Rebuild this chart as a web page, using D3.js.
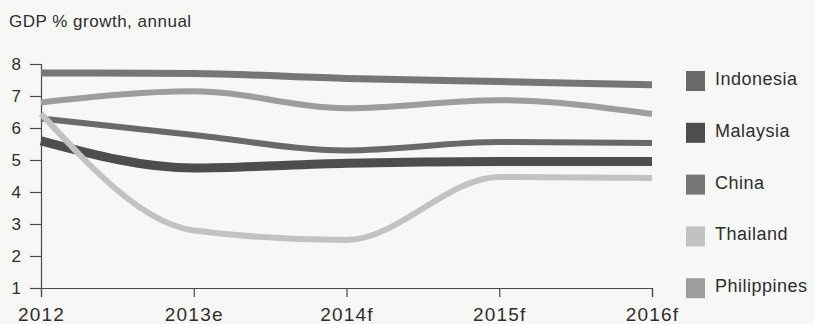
<!DOCTYPE html>
<html>
<head>
<meta charset="utf-8">
<script src="https://cdn.jsdelivr.net/npm/d3@7"></script>
<style>
  html, body { margin: 0; padding: 0; background: #f7f7f6; }
  svg { display: block; }
  text { font-family: "Liberation Sans", Arial, sans-serif; fill: #2e2e2e; }
</style>
</head>
<body>
<svg id="chart" width="814" height="324"></svg>
<script>
// Annual GDP growth (%), actual, estimate and forecast years
const years = ["2012", "2013e", "2014f", "2015f", "2016f"];
const yTicks = [1, 2, 3, 4, 5, 6, 7, 8];

const indonesia   = [6.3, 5.78, 5.3, 5.56, 5.53];
const malaysia    = [5.6, 4.75, 4.9, 4.95, 4.95];
const china       = [7.72, 7.7, 7.55, 7.45, 7.35];
const thailand    = [6.45, 2.8, 2.5, 4.47, 4.44];
const philippines = [6.8, 7.15, 6.62, 6.87, 6.44];

const countries = ["Indonesia", "Malaysia", "China", "Thailand", "Philippines"];
const seriesValues = {
  Indonesia: indonesia,
  Malaysia: malaysia,
  China: china,
  Thailand: thailand,
  Philippines: philippines
};

const colors = {
  Indonesia: "#696969",
  Malaysia: "#4d4d4d",
  China: "#767676",
  Thailand: "#c2c2c2",
  Philippines: "#9d9d9d"
};
const widths = {
  Indonesia: 6,
  Malaysia: 9,
  China: 7,
  Thailand: 6,
  Philippines: 6
};
// lighter lines sit on top where they cross the darker ones
const drawOrder = ["China", "Philippines", "Indonesia", "Malaysia", "Thailand"];

const svg = d3.select("#chart");

const x = d3.scalePoint().domain(years).range([41, 652]);
const y = d3.scaleLinear().domain([1, 8]).range([288, 64]);

svg.append("text")
  .attr("x", 9).attr("y", 26.5)
  .style("font-size", "17px")
  .style("letter-spacing", "0.5px")
  .text("GDP % growth, annual");

// y axis
const yAxis = svg.append("g")
  .attr("transform", "translate(41,0)")
  .call(d3.axisLeft(y).tickValues(yTicks).tickSize(11).tickPadding(9).tickFormat(d3.format("d")));
yAxis.selectAll("text").style("font-size", "17px").attr("fill", "#2e2e2e");

// x axis
const xAxis = svg.append("g")
  .attr("transform", "translate(0,288)")
  .call(d3.axisBottom(x).tickSize(9).tickSizeOuter(9).tickPadding(10.5));
xAxis.selectAll("text").style("font-size", "19px").style("letter-spacing", "1.2px").attr("fill", "#2e2e2e");

svg.selectAll(".domain, .tick line").attr("stroke", "#4a4a4a").attr("stroke-width", 1.2);

// lines
const line = d3.line()
  .x((d, i) => x(years[i]))
  .y(d => y(d))
  .curve(d3.curveMonotoneX);

svg.append("g").selectAll("path")
  .data(drawOrder)
  .join("path")
  .attr("d", c => line(seriesValues[c]))
  .attr("fill", "none")
  .attr("stroke", c => colors[c])
  .attr("stroke-width", c => widths[c])
  .attr("stroke-linecap", "butt");

// legend
const legend = svg.append("g").selectAll("g")
  .data(countries)
  .join("g")
  .attr("transform", (d, i) => `translate(686,${71 + i * 51.8})`);

legend.append("rect")
  .attr("width", 19).attr("height", 20)
  .attr("fill", d => colors[d]);

legend.append("text")
  .attr("x", 29).attr("y", 14)
  .style("font-size", "18px")
  .style("letter-spacing", "0.5px")
  .text(d => d);
</script>
</body>
</html>
